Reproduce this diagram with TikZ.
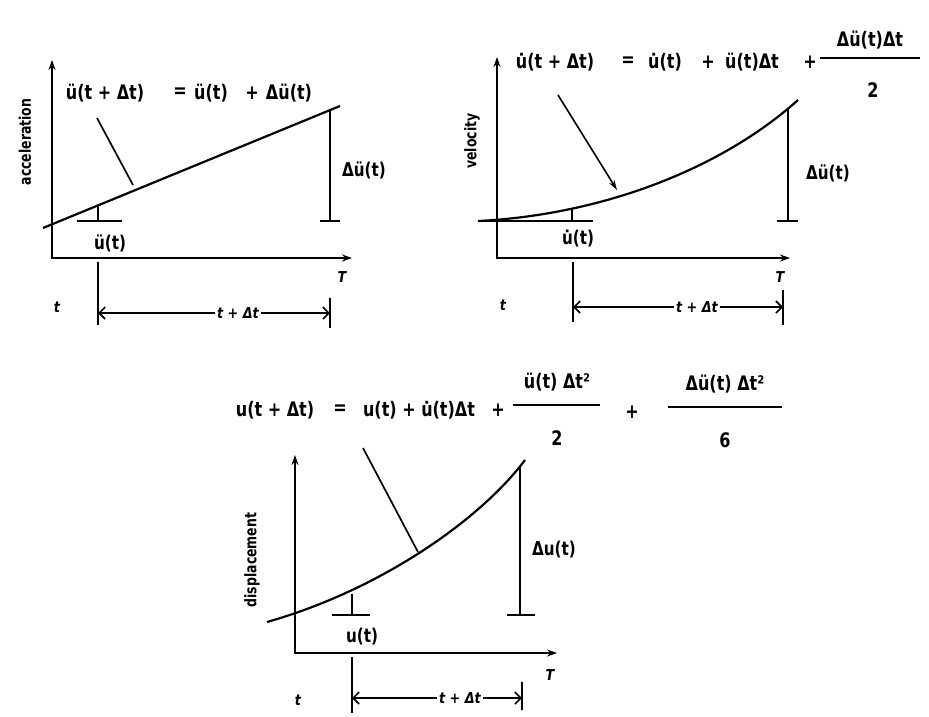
\documentclass[tikz,border=0pt]{standalone}
\usepackage{fontspec}
\setmainfont{DejaVu Sans}
\usetikzlibrary{arrows.meta}
\begin{document}
\begin{tikzpicture}[x=1pt,y=-1pt,
  axes/.style={line width=1.8pt,{Stealth[length=10pt,width=7pt]}-{Stealth[length=10pt,width=7pt]}},
  crv/.style={line width=2.2pt},
  thinl/.style={line width=1.7pt},
  eq/.style={inner sep=0pt,font=\bfseries\fontsize{20}{23}\selectfont,xscale=0.8},
  lab/.style={inner sep=0pt,font=\bfseries\fontsize{19}{22}\selectfont,xscale=0.8},
  axl/.style={inner sep=0pt,font=\bfseries\fontsize{16}{18}\selectfont,rotate=90,xscale=0.78},
  dimtxt/.style={inner sep=2pt,font=\bfseries\itshape\fontsize{15}{17}\selectfont,xscale=0.85},
  dimarr/.style={line width=1.6pt,-{Straight Barb[length=6pt,width=12pt]}},
  leadarr/.style={line width=1.6pt,-{Stealth[length=10pt,width=6pt]}},
]
\useasboundingbox (0,0) rectangle (929,716);

% ---------------- acceleration ----------------
\coordinate (aO) at (52,258);
\coordinate (aY) at (52,60);
\coordinate (aX) at (352,258);
\draw[axes] (aY) -- (aO) -- (aX);
\coordinate (aL0) at (43,228);
\coordinate (aL1) at (340,106);
\draw[crv] (aL0) -- (aL1);
\coordinate (aDt) at (330,110);
\coordinate (aDb) at (330,221);
\coordinate (aBl) at (320,221);
\coordinate (aBr) at (340,221);
\draw[thinl] (aDt) -- (aDb);
\draw[thinl] (aBl) -- (aBr);
\coordinate (aSt) at (98,205);
\coordinate (aSb) at (98,221);
\coordinate (aSl) at (77,221);
\coordinate (aSr) at (122,221);
\draw[thinl] (aSt) -- (aSb);
\draw[thinl] (aSl) -- (aSr);
\coordinate (aP0) at (97,118);
\coordinate (aP1) at (133,185);
\draw[thinl] (aP0) -- (aP1);
\node[eq] (aE1) at (105,93) {ü(t + Δt)};
\node[eq] (aE2) at (180,93) {=};
\node[eq] (aE3) at (211,93) {ü(t)};
\node[eq] (aE4) at (252,93) {+};
\node[eq] (aE5) at (289,93) {Δü(t)};
\node[lab] (aU) at (110,243) {ü(t)};
\node[lab] (aDU) at (364,170) {Δü(t)};
\node[axl] (aName) at (25,142) {acceleration};
\node[dimtxt] (aTT) at (342,277) {T};
\node[dimtxt] (at) at (57,307) {t};
\coordinate (aV0) at (98,262);
\coordinate (aV1) at (98,325);
\coordinate (aR0) at (330,298);
\coordinate (aR1) at (330,328);
\draw[thinl] (aV0) -- (aV1);
\draw[thinl] (aR0) -- (aR1);
\coordinate (aA0) at (98,313);
\coordinate (aA1) at (330,313);
\node[dimtxt] (aDim) at (238,313) {t + Δt};
\draw[dimarr] (aDim.west) -- (aA0);
\draw[dimarr] (aDim.east) -- (aA1);

% ---------------- velocity ----------------
\coordinate (bO) at (497,258);
\coordinate (bY) at (497,57);
\coordinate (bX) at (790,258);
\draw[axes] (bY) -- (bO) -- (bX);
\coordinate (bC0) at (478,221);
\coordinate (bC1) at (798,100);
\draw[crv] (bC0) .. controls (600,215) and (720,170) .. (bC1);
\coordinate (bH1) at (593,221);
\draw[thinl] (bC0) -- (bH1);
\coordinate (bS0) at (572,209);
\coordinate (bS1) at (572,221);
\draw[thinl] (bS0) -- (bS1);
\coordinate (bD0) at (788,109);
\coordinate (bD1) at (788,221);
\coordinate (bBl) at (777,221);
\coordinate (bBr) at (798,221);
\draw[thinl] (bD0) -- (bD1);
\draw[thinl] (bBl) -- (bBr);
\coordinate (bP0) at (558,95);
\coordinate (bP1) at (617,190);
\draw[leadarr] (bP0) -- (bP1);
\node[eq] (bE1) at (555,62) {u̇(t + Δt)};
\node[eq] (bE2) at (628,62) {=};
\node[eq] (bE3) at (665,62) {u̇(t)};
\node[eq] (bE4) at (708,62) {+};
\node[eq] (bE5) at (752,62) {ü(t)Δt};
\node[eq] (bE6) at (810,62) {+};
\node[eq] (bN) at (870,40) {Δü(t)Δt};
\coordinate (bF0) at (820,58);
\coordinate (bF1) at (920,58);
\draw[thinl] (bF0) -- (bF1);
\node[eq] (bDen) at (873,90) {2};
\node[lab] (bU) at (578,239) {u̇(t)};
\node[lab] (bDU) at (828,173) {Δü(t)};
\node[axl] (bName) at (472,141) {velocity};
\node[dimtxt] (bTT) at (780,277) {T};
\node[dimtxt] (bt) at (503,305) {t};
\coordinate (bV0) at (573,262);
\coordinate (bV1) at (573,322);
\coordinate (bR0) at (783,290);
\coordinate (bR1) at (783,325);
\draw[thinl] (bV0) -- (bV1);
\draw[thinl] (bR0) -- (bR1);
\coordinate (bA0) at (573,307);
\coordinate (bA1) at (783,307);
\node[dimtxt] (bDim) at (697,307) {t + Δt};
\draw[dimarr] (bDim.west) -- (bA0);
\draw[dimarr] (bDim.east) -- (bA1);

% ---------------- displacement ----------------
\coordinate (cO) at (295,653);
\coordinate (cY) at (295,455);
\coordinate (cX) at (557,653);
\draw[axes] (cY) -- (cO) -- (cX);
\coordinate (cC0) at (267,622);
\coordinate (cC1) at (525,460);
\draw[crv] (cC0) .. controls (380,590) and (480,520) .. (cC1);
\coordinate (cD0) at (520,466);
\coordinate (cD1) at (520,615);
\coordinate (cBl) at (507,615);
\coordinate (cBr) at (535,615);
\draw[thinl] (cD0) -- (cD1);
\draw[thinl] (cBl) -- (cBr);
\coordinate (cS0) at (352,594);
\coordinate (cS1) at (352,615);
\coordinate (cSl) at (332,615);
\coordinate (cSr) at (370,615);
\draw[thinl] (cS0) -- (cS1);
\draw[thinl] (cSl) -- (cSr);
\coordinate (cP0) at (363,448);
\coordinate (cP1) at (418,552);
\draw[thinl] (cP0) -- (cP1);
\node[eq] (cE1) at (275,410) {u(t + Δt)};
\node[eq] (cE2) at (340,410) {=};
\node[eq] (cE3) at (419,410) {u(t) + u̇(t)Δt};
\node[eq] (cE4) at (498,410) {+};
\node[eq] (cN1) at (557,382) {ü(t) Δt²};
\coordinate (cF0) at (513,405);
\coordinate (cF1) at (600,405);
\draw[thinl] (cF0) -- (cF1);
\node[eq] (cDen1) at (557,438) {2};
\node[eq] (cE5) at (632,412) {+};
\node[eq] (cN2) at (725,384) {Δü(t) Δt²};
\coordinate (cG0) at (668,407);
\coordinate (cG1) at (782,407);
\draw[thinl] (cG0) -- (cG1);
\node[eq] (cDen2) at (725,440) {6};
\node[lab] (cU) at (362,637) {u(t)};
\node[lab] (cDU) at (554,550) {Δu(t)};
\node[axl] (cName) at (252,560) {displacement};
\node[dimtxt] (cTT) at (550,675) {T};
\node[dimtxt] (ct) at (298,700) {t};
\coordinate (cV0) at (352,657);
\coordinate (cV1) at (352,713);
\coordinate (cR0) at (522,682);
\coordinate (cR1) at (522,710);
\draw[thinl] (cV0) -- (cV1);
\draw[thinl] (cR0) -- (cR1);
\coordinate (cA0) at (352,698);
\coordinate (cA1) at (522,698);
\node[dimtxt] (cDim) at (460,698) {t + Δt};
\draw[dimarr] (cDim.west) -- (cA0);
\draw[dimarr] (cDim.east) -- (cA1);
\end{tikzpicture}
\end{document}
